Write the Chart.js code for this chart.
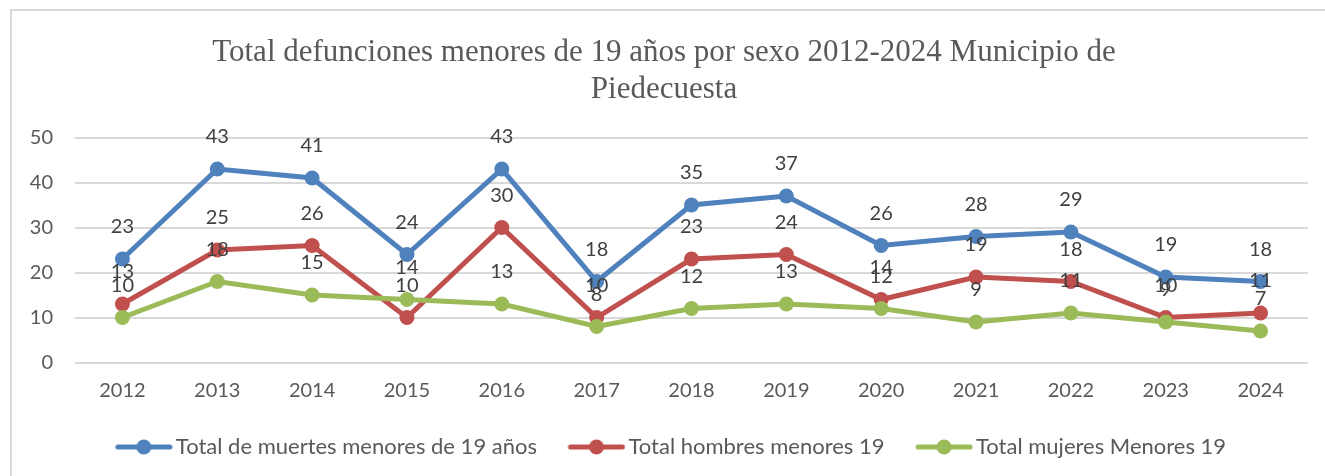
<!DOCTYPE html>
<html>
<head>
<meta charset="utf-8">
<script src="https://cdn.jsdelivr.net/npm/chart.js@4"></script>
<style>
  html, body { margin: 0; padding: 0; background: #fff; overflow: hidden; }
  #frame { position: absolute; left: 10px; top: 9px; width: 1340px; height: 500px; border: 2px solid #d9d9d9; }
  #wrap { position: absolute; left: 0; top: 0; width: 1325px; height: 476px; }
</style>
</head>
<body>
<div id="frame"></div>
<div id="wrap"><canvas id="chart"></canvas></div>
<script>
// datos
const years = ["2012", "2013", "2014", "2015", "2016", "2017", "2018", "2019", "2020", "2021", "2022", "2023", "2024"];
const totalMuertes = [23, 43, 41, 24, 43, 18, 35, 37, 26, 28, 29, 19, 18];
const totalHombres = [13, 25, 26, 10, 30, 10, 23, 24, 14, 19, 18, 10, 11];
const totalMujeres = [10, 18, 15, 14, 13, 8, 12, 13, 12, 9, 11, 9, 7];
const seriesNames = ["Total de muertes menores de 19 años", "Total hombres menores 19", "Total mujeres Menores 19"];
const colors = ["#4f81bd", "#c0504d", "#9bbb59"];

// icono de leyenda: linea + circulo (con margen transparente a la izquierda)
function legendIcon(color) {
    const c = document.createElement("canvas");
    c.width = 79;
    c.height = 18;
    const g = c.getContext("2d");
    const x0 = 21;
    g.strokeStyle = color;
    g.lineWidth = 5;
    g.lineCap = "round";
    g.beginPath();
    g.moveTo(x0 + 3, 9);
    g.lineTo(x0 + 55, 9);
    g.stroke();
    g.fillStyle = color;
    g.beginPath();
    g.arc(x0 + 29, 9, 7.5, 0, Math.PI * 2);
    g.fill();
    return c;
}

// etiquetas de datos encima de cada punto
const dataLabels = {
    id: "dataLabels",
    afterDatasetsDraw(chart) {
        const ctx = chart.ctx;
        ctx.save();
        ctx.font = "20px Lato";
        ctx.fillStyle = "#404040";
        ctx.textAlign = "center";
        ctx.textBaseline = "middle";
        [0, 1, 2].forEach(i => {
            const meta = chart.getDatasetMeta(i);
            meta.data.forEach((pt, j) => {
                ctx.fillText(chart.data.datasets[i].data[j], pt.x, pt.y - 32);
            });
        });
        ctx.restore();
    }
};

const allSeries = [totalMuertes, totalHombres, totalMujeres];

new Chart(document.getElementById("chart"), {
    type: "line",
    data: {
        labels: years,
        datasets: allSeries.map((d, i) => ({
            label: seriesNames[i],
            data: d,
            borderColor: colors[i],
            backgroundColor: colors[i],
            borderWidth: 5,
            pointRadius: 7.5,
            pointHoverRadius: 7.5,
            pointBorderWidth: 0,
            tension: 0,
            order: 2 - i
        }))
    },
    options: {
        responsive: true,
        maintainAspectRatio: false,
        animation: false,
        layout: { padding: { left: 20, right: 17, top: 0, bottom: 8 } },
        plugins: {
            title: {
                display: true,
                text: ["Total defunciones menores de 19 años por sexo 2012-2024 Municipio de", "Piedecuesta"],
                color: "#595959",
                font: { family: "Liberation Serif", size: 31, weight: "normal", lineHeight: 1.17 },
                padding: { top: 35, bottom: 30 }
            },
            legend: {
                position: "bottom",
                labels: {
                    usePointStyle: true,
                    pointStyleWidth: 63,
                    color: "#595959",
                    font: { family: "Lato", size: 22 },
                    padding: 17.5,
                    generateLabels(chart) {
                        return seriesNames.map((name, i) => ({
                            text: name,
                            pointStyle: legendIcon(colors[i]),
                            fillStyle: colors[i],
                            strokeStyle: colors[i],
                            fontColor: "#595959",
                            lineWidth: 0,
                            datasetIndex: i
                        }));
                    }
                }
            },
            tooltip: { enabled: false }
        },
        scales: {
            x: {
                offset: true,
                grid: { display: false, drawTicks: false },
                border: { display: false },
                ticks: { color: "#595959", font: { family: "Lato", size: 20 }, padding: 16 }
            },
            y: {
                min: 0,
                max: 50,
                afterFit(scale) { scale.width = 55; },
                grid: { color: "#d9d9d9", lineWidth: 2, drawTicks: false },
                border: { display: false },
                ticks: { stepSize: 10, color: "#595959", font: { family: "Lato", size: 20 }, padding: 22 }
            }
        }
    },
    plugins: [dataLabels]
});
</script>
</body>
</html>
